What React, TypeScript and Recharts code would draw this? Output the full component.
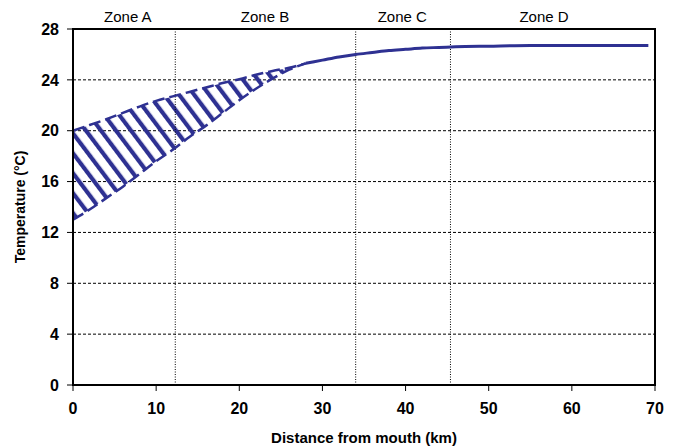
import React from 'react';
import { ComposedChart, Area, Line, XAxis, YAxis, CartesianGrid, ReferenceLine, ReferenceArea } from 'recharts';

const distanceKm = [0, 2, 4, 6, 8, 10, 12, 14, 16, 18, 20, 22, 24, 26, 28, 30, 32, 34, 36, 38, 40, 42, 44, 46, 50, 55, 60, 65, 69.2];
const lowerTemp = [13.0, 13.8, 14.7, 15.6, 16.6, 17.6, 18.5, 19.5, 20.4, 21.4, 22.4, 23.3, 24.1, 24.8, 25.3, null, null, null, null, null, null, null, null, null, null, null, null, null, null];
const upperTemp = [20.0, 20.45, 20.9, 21.4, 21.9, 22.35, 22.7, 23.05, 23.4, 23.75, 24.05, 24.4, 24.7, 24.95, 25.3, null, null, null, null, null, null, null, null, null, null, null, null, null, null];
const meanTemp = [null, null, null, null, null, null, null, null, null, null, null, null, null, null, 25.3, 25.55, 25.8, 26.0, 26.15, 26.3, 26.4, 26.5, 26.55, 26.6, 26.65, 26.7, 26.7, 26.7, 26.7];

const zoneBoundaries = [12.3, 34.0, 45.4];
const zoneNames = ['Zone A', 'Zone B', 'Zone C', 'Zone D'];
const zoneCenters = [6.6, 23.1, 39.6, 56.65];
const xTicks = [0, 10, 20, 30, 40, 50, 60, 70];
const yTicks = [0, 4, 8, 12, 16, 20, 24, 28];

const data = distanceKm.map((d, i) => ({
  km: d,
  lower: lowerTemp[i],
  upper: upperTemp[i],
  band: lowerTemp[i] != null && upperTemp[i] != null ? [lowerTemp[i], upperTemp[i]] : null,
  mean: meanTemp[i],
}));

const NAVY = '#2E3192';
const FONT = "Arial, 'Liberation Sans', Helvetica, sans-serif";

export default function App() {
  return (
    <div style={{ position: 'absolute', left: 0, top: 0, width: 675, height: 446, background: '#fff' }}>
      <svg width={0} height={0} style={{ position: 'absolute' }}>
        <defs>
          <pattern id="hatch" patternUnits="userSpaceOnUse" width={12} height={12} patternTransform="rotate(-37)">
            <rect x={0} y={0} width={4.2} height={12} fill={NAVY} />
          </pattern>
        </defs>
      </svg>
      <ComposedChart width={675} height={446} data={data} margin={{ top: 0, right: 20, bottom: 0, left: 0 }}>
        <CartesianGrid xAxisId="main" vertical={false} stroke="#000" strokeDasharray="3 2" strokeWidth={1} />
        <XAxis
          xAxisId="top"
          orientation="top"
          type="number"
          dataKey="km"
          domain={[0, 70]}
          ticks={zoneCenters}
          tickFormatter={(v: number) => zoneNames[zoneCenters.indexOf(v)] ?? ''}
          axisLine={false}
          tickLine={false}
          tickSize={0}
          tickMargin={7}
          height={29}
          interval={0}
          tick={{ fill: '#000', fontSize: 15, fontFamily: FONT }}
        />
        <XAxis
          xAxisId="main"
          type="number"
          dataKey="km"
          domain={[0, 70]}
          ticks={xTicks}
          interval={0}
          height={61}
          axisLine={{ stroke: '#000', strokeWidth: 2 }}
          tickLine={{ stroke: '#000', strokeWidth: 1 }}
          tickSize={6}
          tickMargin={12}
          tick={{ fill: '#000', fontSize: 16, fontWeight: 'bold', fontFamily: FONT }}
          label={{ value: 'Distance from mouth (km)', position: 'insideBottom', offset: 3, style: { fill: '#000', fontSize: 15, fontWeight: 'bold', fontFamily: FONT } }}
        />
        <YAxis
          type="number"
          domain={[0, 28]}
          ticks={yTicks}
          interval={0}
          width={73}
          axisLine={{ stroke: '#000', strokeWidth: 2 }}
          tickLine={{ stroke: '#000', strokeWidth: 1 }}
          tickSize={6}
          tickMargin={8}
          tick={{ fill: '#000', fontSize: 16, fontWeight: 'bold', fontFamily: FONT }}
          label={{ value: 'Temperature (°C)', angle: -90, position: 'insideLeft', offset: 20, style: { textAnchor: 'middle', fill: '#000', fontSize: 14, fontWeight: 'bold', fontFamily: FONT } }}
        />
        <ReferenceArea xAxisId="main" x1={0} x2={70} y1={0} y2={28} fill="none" stroke="#000" strokeWidth={2} ifOverflow="visible" />
        {zoneBoundaries.map((x) => (
          <ReferenceLine key={x} xAxisId="main" x={x} stroke="#000" strokeDasharray="1 1.5" strokeWidth={1} />
        ))}
        <Area xAxisId="main" type="monotone" dataKey="band" fill="url(#hatch)" fillOpacity={1} stroke="none" isAnimationActive={false} connectNulls={false} />
        <Line xAxisId="main" type="monotone" dataKey="upper" stroke={NAVY} strokeWidth={2.5} strokeDasharray="12 5" dot={false} isAnimationActive={false} />
        <Line xAxisId="main" type="monotone" dataKey="lower" stroke={NAVY} strokeWidth={2.5} strokeDasharray="12 5" dot={false} isAnimationActive={false} />
        <Line xAxisId="main" type="monotone" dataKey="mean" stroke={NAVY} strokeWidth={3} dot={false} isAnimationActive={false} />
      </ComposedChart>
    </div>
  );
}
